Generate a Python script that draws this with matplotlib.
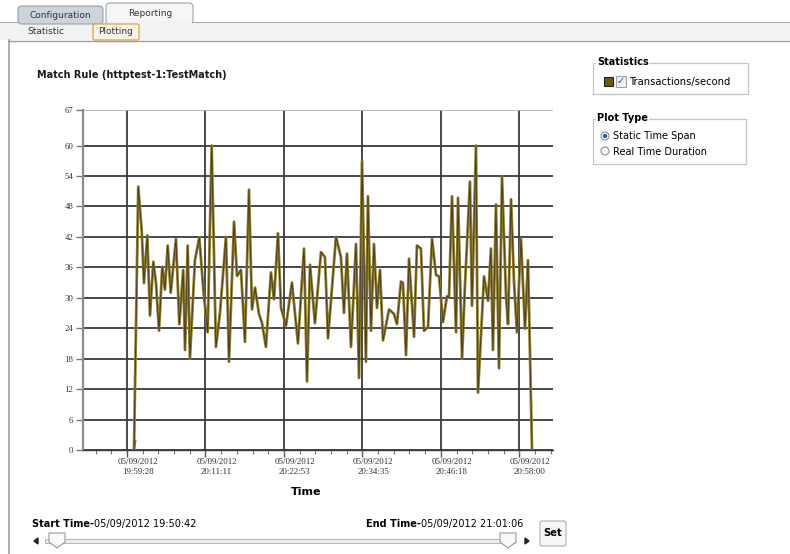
import matplotlib.pyplot as plt
import matplotlib.dates as mdates
from matplotlib.patches import Rectangle, FancyBboxPatch, Circle, Polygon
from matplotlib.ticker import AutoMinorLocator, FixedLocator
import pandas as pd

DAY = "2012-05-09"

# sample offsets (seconds after 20:00:00) and transactions/second
sample_secs = [
    31, 69, 100, 120, 150, 174, 204, 228, 255, 284, 308, 333, 360, 407, 437,
    472, 488, 512, 532, 577, 616, 652, 691,
    727, 765, 801, 855, 882, 927, 954, 989, 1025, 1061, 1088, 1115, 1151,
    1178, 1213, 1258, 1285, 1321, 1348, 1393, 1446, 1500, 1554, 1581, 1608,
    1652, 1706, 1742, 1769, 1841,
    1885, 1912, 1939, 1975, 2020, 2047, 2074, 2109, 2127, 2154, 2181, 2208,
    2235, 2262, 2316, 2360, 2387, 2423, 2441, 2468, 2495, 2540, 2566, 2602,
    2629, 2665, 2701, 2737, 2764, 2799, 2835, 2853, 2880, 2916, 2934, 2970,
    2996, 3041, 3059, 3095, 3113, 3167, 3203, 3229, 3247, 3274, 3301, 3328,
    3364, 3382, 3409, 3436, 3462, 3498, 3534, 3561, 3597,
]
tps = [
    0, 51.9, 43.2, 32.9, 42.3, 26.5, 37.1, 32.9, 23.5, 36.1, 31.6, 40.3, 31,
    41.6, 24.8, 35.5, 19.7, 40.3, 18, 37.4, 41.9, 31.6, 23.2,
    60, 20.3, 27, 42, 17.4, 45, 34.3, 35.5, 21.3, 51.3, 27.7, 32, 26.8,
    25, 20.3, 35, 29.7, 42.7, 28, 24.5, 33, 21, 39.7, 13.5, 36.5,
    25, 39, 38, 22, 42,
    38, 27, 38.7, 20.3, 40.6, 14.2, 57, 17.4, 50, 23.5, 40.6, 28,
    35.5, 21.6, 27.7, 26.8, 24.8, 33.2, 32.9, 18.7, 37.7, 22.3, 40.3, 39.7,
    23.5, 24.2, 41.6, 34.5, 34.2, 25.2, 30.3, 30, 50, 23.2, 49.7, 18,
    32.3, 52.9, 28.4, 60, 11.3, 34.2, 29.4, 39.7, 19.7, 48.4, 16.1, 53.9,
    30.3, 24.8, 49.4, 32.9, 23.2, 41.6, 23.9, 37.4, 0,
]
# second series, only visible at the very start
probe_secs = [31, 42]
probe_vals = [0, 1.8]

tick_times = ["19:59:28", "20:11:11", "20:22:53", "20:34:35", "20:46:18", "20:58:00"]
y_ticks = [0, 6, 12, 18, 24, 30, 36, 42, 48, 54, 60, 67]
view_start, view_end = "19:52:54", "21:03:05"

W, H = 790, 554
UI_FONT = "DejaVu Sans"
LINE = "#8f7f30"
CORE = "#3c2a14"

fig = plt.figure(figsize=(W / 100, H / 100), dpi=100)

# page widgets drawn in pixel coordinates
ui = fig.add_axes([0, 0, 1, 1], zorder=0)
ui.set_xlim(0, W)
ui.set_ylim(H, 0)
ui.axis("off")


def box(x0, y0, x1, y1, **kw):
    ui.add_patch(Rectangle((x0, y0), x1 - x0, y1 - y0, **kw))


def txt(x, y, s, size=7, bold=False, **kw):
    kw.setdefault("va", "center")
    ui.text(x, y, s, fontsize=size, family=UI_FONT,
            fontweight="bold" if bold else "normal", **kw)


# tab strip
box(0, 22, W, 40, facecolor="#f1f2f4", edgecolor="none")
ui.plot([0, 18], [22, 22], color="#a8adb3", lw=0.8)
ui.plot([193, W], [22, 22], color="#a8adb3", lw=0.8)
ui.plot([8, W], [40.5, 40.5], color="#9a9da2", lw=1.0)
ui.plot([8.5, 8.5], [40, H], color="#a0a0a0", lw=1.2)
ui.add_patch(FancyBboxPatch((18, 6), 85, 18, boxstyle="round,pad=0,rounding_size=4",
                            facecolor="#cdd4dc", edgecolor="#98a0a8", lw=0.8))
ui.add_patch(FancyBboxPatch((106, 3), 87, 21, boxstyle="round,pad=0,rounding_size=4",
                            facecolor="#f6f6f6", edgecolor="#a0a4a8", lw=0.8))
box(107, 21, 192, 26, facecolor="#f1f2f4", edgecolor="none")
txt(60, 15, "Configuration", size=6.5, ha="center", color="#333")
txt(150, 14, "Reporting", size=6.5, ha="center", color="#333")
txt(46, 32, "Statistic", size=6.5, ha="center", color="#333")
ui.add_patch(FancyBboxPatch((93, 24), 46, 16, boxstyle="round,pad=0,rounding_size=2",
                            facecolor="#f8f4ea", edgecolor="#e0a850", lw=1.0))
txt(116, 32, "Plotting", size=6.5, ha="center", color="#333")

txt(37, 75, "Match Rule (httptest-1:TestMatch)", size=7, bold=True, color="#1a1a1a")

# Statistics group
box(593, 63, 748, 94, facecolor="none", edgecolor="#c4c4c4", lw=0.9)
txt(597, 62, "Statistics", size=7, bold=True,
    bbox=dict(facecolor="white", edgecolor="none", pad=0.6))
box(604, 77, 613, 86, facecolor="#6a5a12", edgecolor="#222", lw=0.8)
box(616, 76, 626, 87, facecolor="#eef2f6", edgecolor="#9aa4ae", lw=0.8)
txt(621, 81, "\u2713", size=7, ha="center", color="#26408a")
txt(629, 82, "Transactions/second", size=7.2)

# Plot Type group
box(593, 119, 746, 164, facecolor="none", edgecolor="#c4c4c4", lw=0.9)
txt(597, 118, "Plot Type", size=7, bold=True,
    bbox=dict(facecolor="white", edgecolor="none", pad=0.6))
ui.add_patch(Circle((605, 136), 4, facecolor="#e8eef4", edgecolor="#8a96a2", lw=0.8))
ui.add_patch(Circle((605, 136), 2, facecolor="#2a50a0", edgecolor="none"))
ui.add_patch(Circle((605, 151), 4, facecolor="#f2f4f6", edgecolor="#8a96a2", lw=0.8))
txt(613, 136, "Static Time Span", size=7)
txt(613, 152, "Real Time Duration", size=7)

# time range slider
txt(32, 524, "Start Time-", size=7, bold=True)
txt(94, 524, "05/09/2012 19:50:42", size=7)
txt(366, 524, "End Time-", size=7, bold=True)
txt(421, 524, "05/09/2012 21:01:06", size=7)
box(45, 539, 515, 543, facecolor="#eeeeee", edgecolor="#b8b8b8", lw=0.8)
for cx in (57, 508):
    ui.add_patch(Polygon([(cx - 8, 533), (cx + 8, 533), (cx + 8, 542), (cx, 548), (cx - 8, 542)],
                         closed=True, facecolor="#fafafa", edgecolor="#9a9a9a", lw=0.8))
ui.add_patch(Polygon([(38, 538), (38, 544), (34, 541)], closed=True, color="#222"))
ui.add_patch(Polygon([(525, 538), (525, 544), (529, 541)], closed=True, color="#222"))
ui.add_patch(FancyBboxPatch((540, 521), 26, 25, boxstyle="round,pad=0,rounding_size=2",
                            facecolor="#f4f6f8", edgecolor="#a8b0b8", lw=0.8))
txt(553, 533, "Set", size=7.2, bold=True, ha="center")

txt(306, 492, "Time", size=8, bold=True, ha="center")

# the chart itself
ax = fig.add_axes([83 / W, (H - 450) / H, 470 / W, 340 / H], zorder=1)
ax.set_facecolor("none")

base = pd.Timestamp(f"{DAY} 20:00:00")
times = base + pd.to_timedelta(sample_secs, unit="s")
probe_times = base + pd.to_timedelta(probe_secs, unit="s")

ax.plot(probe_times, probe_vals, color="#e02020", lw=1.6, zorder=3)
ax.plot(times, tps, color=LINE, lw=2.0, zorder=4)
ax.plot(times, tps, color=CORE, lw=0.6, alpha=0.85, zorder=5)

major = pd.to_datetime([f"{DAY} {t}" for t in tick_times])
ax.xaxis.set_major_locator(FixedLocator(mdates.date2num(major)))
ax.xaxis.set_minor_locator(AutoMinorLocator(5))
ax.set_xticklabels([])
ax.set_xlim(pd.Timestamp(f"{DAY} {view_start}"), pd.Timestamp(f"{DAY} {view_end}"))
for t in major:
    ax.annotate(t.strftime("%m/%d/%Y\n%H:%M:%S"), xy=(mdates.date2num(t), 0),
                xycoords=ax.get_xaxis_transform(), xytext=(8, -6),
                textcoords="offset points", ha="center", va="top",
                fontsize=6.5, family="Liberation Serif", color="#333",
                linespacing=1.25)

ax.set_ylim(0, 67)
ax.set_yticks(y_ticks)
ax.tick_params(axis="y", length=5, width=1, color="#777", labelsize=6.3,
               labelfontfamily="Liberation Serif", labelcolor="#333", pad=2)
ax.tick_params(axis="x", which="major", length=5, width=1, color="#555")
ax.tick_params(axis="x", which="minor", length=3, width=0.8, color="#777")

ax.grid(True, which="major", color="#3a3a3a", lw=1.3)
ax.get_ygridlines()[-1].set_color("#b4b4b4")
for side in ("top", "right"):
    ax.spines[side].set_visible(False)
ax.spines["left"].set_color("#8c8c8c")
ax.spines["left"].set_linewidth(1.6)
ax.spines["bottom"].set_color("#3a3a3a")
ax.spines["bottom"].set_linewidth(1.0)

fig.savefig("out.png", dpi=100)
